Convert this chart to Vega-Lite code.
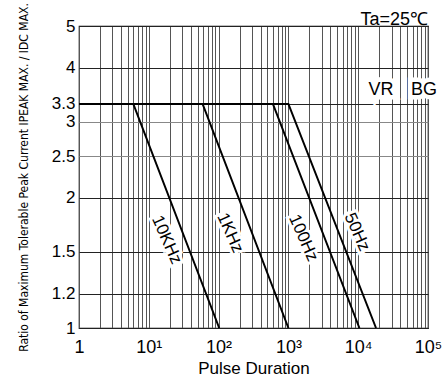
{
  "$schema": "https://vega.github.io/schema/vega-lite/v6.json",
  "width": 349,
  "height": 302,
  "autosize": "none",
  "padding": {"left": 79, "top": 26, "right": 15, "bottom": 56},
  "background": "white",
  "config": {
    "font": "Liberation Sans",
    "view": {"stroke": "black", "strokeWidth": 1.2}
  },
  "title": {
    "text": "Ta=25℃",
    "anchor": "end",
    "frame": "group",
    "fontSize": 18,
    "fontWeight": "normal",
    "font": "Liberation Sans",
    "color": "black",
    "offset": 2,
    "dy": 32
  },
  "datasets": {
    "lines": [
      {"series": "10KHz", "x": 1, "y": 3.3},
      {"series": "10KHz", "x": 6, "y": 3.3},
      {"series": "10KHz", "x": 102, "y": 1},
      {"series": "1KHz", "x": 1, "y": 3.3},
      {"series": "1KHz", "x": 59, "y": 3.3},
      {"series": "1KHz", "x": 1000, "y": 1},
      {"series": "100Hz", "x": 1, "y": 3.3},
      {"series": "100Hz", "x": 600, "y": 3.3},
      {"series": "100Hz", "x": 10400, "y": 1},
      {"series": "50Hz", "x": 1, "y": 3.3},
      {"series": "50Hz", "x": 1000, "y": 3.3},
      {"series": "50Hz", "x": 18000, "y": 1}
    ],
    "curveLabels": [
      {"x": 18, "y": 1.6, "text": "10KHz"},
      {"x": 146, "y": 1.66, "text": "1KHz"},
      {"x": 1640, "y": 1.616, "text": "100Hz"},
      {"x": 9600, "y": 1.668, "text": "50Hz"}
    ],
    "tags": [
      {"x": 21200, "y": 3.56, "text": "VR"},
      {"x": 87700, "y": 3.56, "text": "BG"}
    ]
  },
  "encoding": {
    "x": {
      "field": "x",
      "type": "quantitative",
      "title": "Pulse Duration",
      "scale": {"type": "log", "domain": [1, 100000], "nice": false},
      "axis": {
        "values": [1,2,3,4,5,6,7,8,9,10,20,30,40,50,60,70,80,90,100,200,300,400,500,600,700,800,900,1000,2000,3000,4000,5000,6000,7000,8000,9000,10000,20000,30000,40000,50000,60000,70000,80000,90000,100000],
        "labelExpr": "datum.value == 1 ? '1' : datum.value == 10 ? '10¹' : datum.value == 100 ? '10²' : datum.value == 1000 ? '10³' : datum.value == 10000 ? '10⁴' : datum.value == 100000 ? '10⁵' : ''",
        "grid": true,
        "gridColor": "#555",
        "gridWidth": 1,
        "gridOpacity": 1,
        "domain": false,
        "ticks": false,
        "tickSize": 0,
        "labelPadding": 10,
        "labelFontSize": 18,
        "labelColor": "black",
        "labelOverlap": false,
        "labelFlush": false,
        "titleFontSize": 17,
        "titleFontWeight": "normal",
        "titleColor": "black",
        "titlePadding": 4
      }
    },
    "y": {
      "field": "y",
      "type": "quantitative",
      "title": "Ratio of Maximum Tolerable Peak Current   IPEAK MAX. / IDC MAX.",
      "scale": {"type": "log", "domain": [1, 5], "nice": false},
      "axis": {
        "values": [1, 1.2, 1.5, 2, 2.5, 3, 3.3, 4, 5],
        "format": "~g",
        "grid": true,
        "gridColor": {"condition": {"test": "datum.value == 3 || datum.value == 2.5", "value": "#888"}, "value": "#222"},
        "gridWidth": 1,
        "gridOpacity": 1,
        "domain": false,
        "ticks": false,
        "tickSize": 0,
        "labelPadding": 4,
        "labelFontSize": 17,
        "labelColor": "black",
        "labelOverlap": false,
        "labelFlush": false,
        "titleFont": "Liberation Sans Narrow, DejaVu Sans Condensed, Liberation Sans, sans-serif",
        "titleFontSize": 12,
        "titleFontWeight": "normal",
        "titleColor": "black",
        "titleAngle": 270,
        "titleX": -56,
        "titleY": 151,
        "titleAlign": "center",
        "titleBaseline": "middle"
      }
    }
  },
  "layer": [
    {
      "data": {"name": "lines"},
      "mark": {"type": "line", "color": "black", "strokeWidth": 2},
      "encoding": {"detail": {"field": "series"}}
    },
    {
      "data": {"name": "curveLabels"},
      "mark": {"type": "text", "angle": 66, "fontSize": 17, "align": "center", "baseline": "middle", "stroke": "white", "strokeWidth": 6, "fill": "white"},
      "encoding": {"text": {"field": "text"}}
    },
    {
      "data": {"name": "curveLabels"},
      "mark": {"type": "text", "angle": 66, "fontSize": 17, "align": "center", "baseline": "middle", "fill": "black"},
      "encoding": {"text": {"field": "text"}}
    },
    {
      "data": {"name": "tags"},
      "mark": {"type": "text", "fontSize": 18, "align": "center", "baseline": "middle", "stroke": "white", "strokeWidth": 9, "fill": "white"},
      "encoding": {"text": {"field": "text"}}
    },
    {
      "data": {"name": "tags"},
      "mark": {"type": "text", "fontSize": 18, "align": "center", "baseline": "middle", "fill": "black"},
      "encoding": {"text": {"field": "text"}}
    }
  ]
}
